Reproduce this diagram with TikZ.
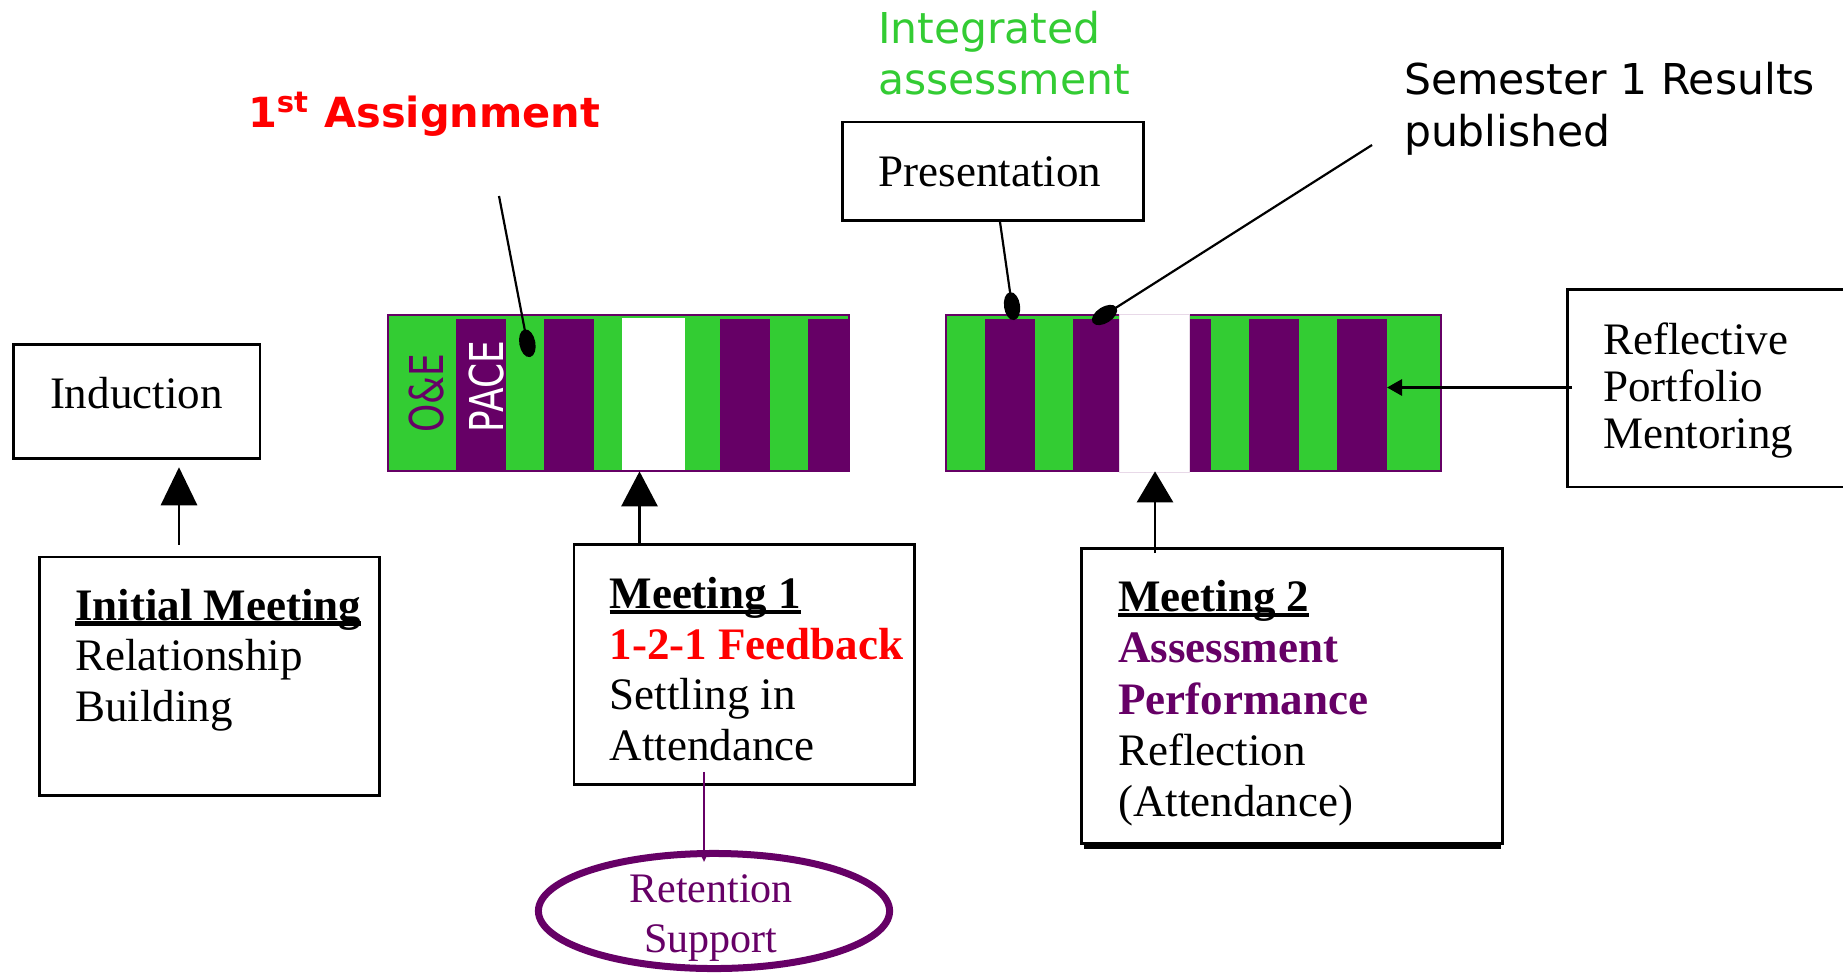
\documentclass[tikz,border=0pt]{standalone}
\usepackage{fontspec}
\setmainfont{Liberation Serif}
\newfontfamily\sansf{DejaVu Sans}
\usetikzlibrary{arrows.meta,calc,shapes.geometric}
\definecolor{pgreen}{HTML}{33CC33}
\definecolor{ppurple}{HTML}{660066}
\definecolor{pred}{HTML}{FF0000}
\newsavebox\myulbox
\newcommand\myul[1]{\sbox\myulbox{#1}\rlap{\rule[-0.125em]{\wd\myulbox}{0.095em}}\usebox\myulbox}
\begin{document}
\begin{tikzpicture}[x=0.01cm,y=-0.01cm,
  box/.style={draw=black, line width=0.028cm, rectangle, inner sep=0pt, fill=white},
  txt/.style={inner sep=0pt, outer sep=0pt, anchor=base west, font=\fontsize{0.45cm}{0.508cm}\selectfont},
  sanst/.style={inner sep=0pt, outer sep=0pt, anchor=base west, font=\sansf\fontsize{0.425cm}{0.515cm}\selectfont},
  barbox/.style={rectangle, inner sep=0pt, fill=pgreen, draw=ppurple, line width=0.02cm},
  bigarr/.style={line width=0.028cm},
  callout/.style={line width=0.022cm, -{Ellipse[length=0.28cm,width=0.16cm]}},
  vert/.style={inner sep=0pt, outer sep=0pt, anchor=base, rotate=90, font=\sansf\fontsize{0.466cm}{0.5cm}\selectfont}
]
\useasboundingbox (0,0) rectangle (1843,973);
\clip (0,0) rectangle (1843,973);
\fill[white] (0,0) rectangle (1843,973);

% ---- bars ----
\node[barbox, minimum width=4.61cm, minimum height=1.558cm] (bar1) at (618.5,393.4) {};
\foreach \a/\b in {456/506,544/594,720/770,808/849}
  \fill[ppurple] (\a,319) rectangle (\b,471);
\fill[white] (622,317.5) rectangle (685,469.5);
\node[vert, text=ppurple] (oe) at (443,393) {\scalebox{0.77}[1]{O\&E}};
\node[vert, text=white] (pace) at (503,386.5) {\scalebox{0.77}[1]{PACE}};

\node[barbox, minimum width=4.944cm, minimum height=1.558cm] (bar2) at (1193.3,393.4) {};
\foreach \a/\b in {985/1035,1073/1119,1189/1211,1249/1299,1337/1387}
  \fill[ppurple] (\a,319) rectangle (\b,471);
\filldraw[fill=white, draw=ppurple!15, line width=0.008cm] (1119,314.5) rectangle (1189,472.5);

% ---- boxes ----
\node[box, minimum width=2.465cm, minimum height=1.14cm] (ind) at (136.75,401.3) {};
\node[box, minimum width=3.40cm, minimum height=2.385cm] (im) at (209.5,676.25) {};
\node[box, minimum width=3.405cm, minimum height=2.396cm] (m1) at (744.25,664.5) {};
\node[box, minimum width=4.21cm, minimum height=2.95cm] (m2) at (1292,696.2) {};
\node[box, minimum width=3.325cm, minimum height=1.975cm] (refl) at (1733.75,388.25) {};
\node[box, minimum width=3.01cm, minimum height=0.985cm] (pres) at (993,171.25) {};
\draw[line width=0.045cm] ($(m2.south west)+(4,1.2)$) -- ($(m2.south east)+(-3,1.2)$);

% ---- box texts ----
\node[txt] (indT) at (50,408) {Induction};
\node[txt] (imT) at (75,620) {\vtop{\hbox{\myul{\bfseries Initial Meeting}}\hbox{Relationship}\hbox{Building}}};
\node[txt] (m1T) at (609.5,608.3) {\vtop{\hbox{\myul{\bfseries Meeting 1}}\hbox{\bfseries\color{pred}1-2-1 Feedback}\hbox{Settling in}\hbox{Attendance}}};
\node[txt, font=\fontsize{0.45cm}{0.5125cm}\selectfont] (m2T) at (1118,611.7) {\vtop{\hbox{\myul{\bfseries Meeting 2}}\hbox{\bfseries\color{ppurple}Assessment}\hbox{\bfseries\color{ppurple}Performance}\hbox{Reflection}\hbox{(Attendance)}}};
\node[txt, font=\fontsize{0.45cm}{0.472cm}\selectfont] (reflT) at (1603,354) {\vtop{\hbox{Reflective}\hbox{Portfolio}\hbox{Mentoring}}};
\node[txt] (presT) at (878.5,186) {Presentation};

% ---- sans labels ----
\node[sanst, text=pred, font=\sansf\fontsize{0.415cm}{0.5cm}\selectfont] (asgT) at (248,128) {\bfseries 1\textsuperscript{st} Assignment};
\node[sanst, text=pgreen] (intT) at (878,43.3) {\vtop{\hbox{Integrated}\hbox{assessment}}};
\node[sanst] (semT) at (1404,95) {\vtop{\hbox{Semester 1 Results}\hbox{published}}};

% ---- retention ellipse ----
\node[ellipse, draw=ppurple, line width=0.07cm, minimum width=3.51cm, minimum height=1.15cm, inner sep=0pt] (ret) at (714,911) {};
\node[inner sep=0pt, anchor=base, text=ppurple, font=\fontsize{0.42cm}{0.5cm}\selectfont] (retT) at (711,902)
  {\vtop{\hbox{\makebox[3.4cm]{Retention}}\hbox{\makebox[3.4cm]{Support}}}};

% ---- connectors ----
\coordinate (ax1) at (179,0);
\coordinate (ax2) at (639.5,0);
\coordinate (ax3) at (1155,0);
\coordinate (rx) at (704,0);
\coordinate (px) at (1000,0);
\coordinate (rtip) at (1387,387.5);
\coordinate (asgA) at (499,196);
\coordinate (asgB) at (530,357);
\coordinate (semA) at (1372,145);
\coordinate (semB) at (1092.7,322.5);
\coordinate (presB) at (1014,320);

\draw[bigarr, -{Triangle[length=0.38cm,width=0.36cm]}] ($(im.north -| ax1)+(0,-10.6)$) -- ($(ind.south -| ax1)+(0,7.5)$);
\draw[bigarr, -{Triangle[length=0.35cm,width=0.36cm]}] (m1.north -| ax2) -- ($(bar1.south -| ax2)+(0,-1)$);
\draw[bigarr, -{Triangle[length=0.31cm,width=0.36cm]}] ($(m2.north -| ax3)+(0,6)$) -- ($(bar2.south -| ax3)+(0,-1)$);
\draw[line width=0.03cm, -{Triangle[length=0.15cm,width=0.16cm]}] ($(refl.west)+(6,-0.75)$) -- (rtip);
\draw[ppurple, line width=0.02cm, -{Triangle[length=0.09cm,width=0.08cm]}] ($(m1.south -| rx)+(0,-14)$) -- ($(ret.north -| rx)+(0,12)$);

\draw[callout] (asgA) -- (asgB);
\draw[callout] (pres.south -| px) -- (presB);
\draw[callout] (semA) -- (semB);
\end{tikzpicture}
\end{document}
